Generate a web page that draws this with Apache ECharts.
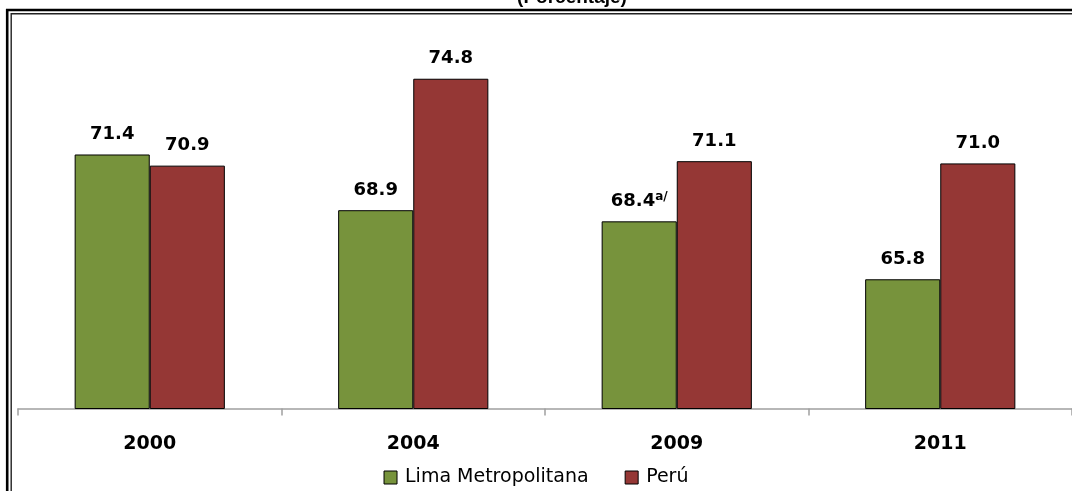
<!DOCTYPE html>
<html>
<head>
<meta charset="utf-8">
<script src="https://cdn.jsdelivr.net/npm/echarts@6/dist/echarts.min.js"></script>
<style>
html,body{margin:0;padding:0;background:#fff;}
#chart{width:1072px;height:491px;}
</style>
</head>
<body>
<div id="chart"></div>
<script>
const titleText = '(Porcentaje)';
const categories = ['2000', '2004', '2009', '2011'];
const seriesNames = ['Lima Metropolitana', 'Perú'];
const limaValues = [71.4, 68.9, 68.4, 65.8];
const peruValues = [70.9, 74.8, 71.1, 71.0];
const limaNotes = ['', '', 'a/', ''];

const chart = echarts.init(document.getElementById('chart'), null, {renderer: 'canvas'});

const valueFont = {fontFamily: 'DejaVu Sans', fontWeight: 'bold', fontSize: 18, lineHeight: 20, color: '#000'};

chart.setOption({
  animation: false,
  backgroundColor: '#fff',
  graphic: [
    {type: 'rect', shape: {x: 7.2, y: 10, width: 1200, height: 600}, style: {fill: 'none', stroke: '#000', lineWidth: 2.6}, silent: true, z: 0},
    {type: 'rect', shape: {x: 11.2, y: 13.8, width: 1200, height: 600}, style: {fill: 'none', stroke: '#222', lineWidth: 1.4}, silent: true, z: 0},
    {type: 'text', x: 572, y: 7, style: {text: titleText, textAlign: 'center', textVerticalAlign: 'bottom', font: 'bold 19px "Liberation Sans", Arial, sans-serif', fill: '#000'}, silent: true}
  ],
  legend: {
    data: seriesNames,
    top: 463,
    left: 'center',
    itemWidth: 13,
    itemHeight: 13,
    itemGap: 36,
    icon: 'rect',
    textStyle: {fontFamily: 'DejaVu Sans', fontSize: 19, color: '#000', padding: [0, 0, 0, 3]},
    itemStyle: {borderColor: '#000', borderWidth: 1}
  },
  grid: {left: 18, right: 0, top: 52, bottom: 82.5, containLabel: false},
  xAxis: {
    type: 'category',
    data: categories,
    axisLine: {lineStyle: {color: '#a0a0a0', width: 1.5}},
    axisTick: {show: true, length: 7, lineStyle: {color: '#a0a0a0', width: 1.5}},
    axisLabel: {margin: 26, fontFamily: 'DejaVu Sans', fontWeight: 'bold', fontSize: 19, color: '#000'}
  },
  yAxis: {
    type: 'value',
    min: 60,
    max: 76,
    show: false,
    splitLine: {show: false}
  },
  series: [
    {
      name: seriesNames[0],
      type: 'bar',
      data: limaValues,
      barGap: '0%',
      barCategoryGap: '43%',
      itemStyle: {color: '#77933C', borderColor: '#000', borderWidth: 1},
      label: {
        show: true,
        position: 'top',
        distance: 10,
        formatter: function (p) {
          const note = limaNotes[p.dataIndex];
          return note ? '{v|' + p.value.toFixed(1) + '}{s|' + note + '}' : '{v|' + p.value.toFixed(1) + '}';
        },
        rich: {
          v: valueFont,
          s: {fontFamily: 'DejaVu Sans', fontWeight: 'bold', fontSize: 12, lineHeight: 12, color: '#000', verticalAlign: 'top'}
        }
      }
    },
    {
      name: seriesNames[1],
      type: 'bar',
      data: peruValues,
      itemStyle: {color: '#953735', borderColor: '#000', borderWidth: 1},
      label: {
        show: true,
        position: 'top',
        distance: 10,
        formatter: function (p) { return p.value.toFixed(1); },
        fontFamily: 'DejaVu Sans', fontWeight: 'bold', fontSize: 18, lineHeight: 20, color: '#000'
      }
    }
  ]
});
</script>
</body>
</html>
